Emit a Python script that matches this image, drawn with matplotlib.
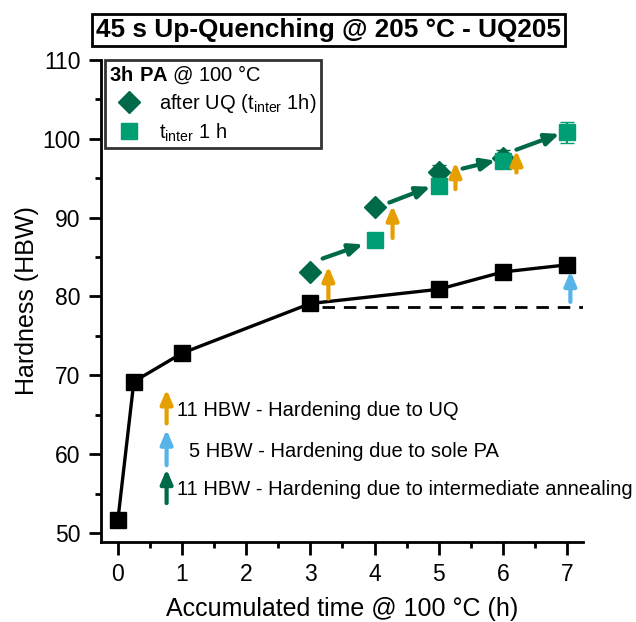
import matplotlib
matplotlib.use("Agg")
import matplotlib.pyplot as plt
from matplotlib.lines import Line2D
import numpy as np

plt.rcParams['font.family'] = ['Liberation Sans', 'DejaVu Sans']
plt.rcParams['mathtext.fontset'] = 'custom'
plt.rcParams['mathtext.rm'] = 'Liberation Sans'
plt.rcParams['mathtext.bf'] = 'Liberation Sans:bold'

# sole PA (black)
t_pa = [0, 0.25, 1, 3, 5, 6, 7]
hb_pa = [51.6, 69.2, 72.8, 79.1, 80.9, 83.1, 84.0]
err_pa = [0.3, 0.3, 0.3, 0.4, 0.5, 0.5, 0.5]

# after UQ (diamonds)
t_uq = [3, 4, 5, 6]
hb_uq = [83.1, 91.3, 95.8, 97.6]
err_uq = [0.3, 0.4, 0.8, 0.9]

# t_inter 1 h (squares)
t_int = [4, 5, 6, 7]
hb_int = [87.1, 94.0, 97.2, 100.8]
err_int = [0.3, 0.5, 0.7, 1.3]

ref_level = 78.7

# hardening arrows (x0, y0, x1, y1)
uq_arrows = [(3.28, 79.7, 3.28, 83.8), (4.28, 87.4, 4.28, 91.5),
             (5.26, 93.6, 5.26, 97.0), (6.21, 95.7, 6.21, 98.5)]
pa_arrows = [(7.05, 79.3, 7.05, 83.2)]
inter_arrows = [(3.19, 84.8, 3.82, 86.6), (4.23, 91.9, 4.87, 93.9),
                (5.37, 96.2, 5.88, 97.2), (6.21, 98.6, 6.88, 100.6)]

c_uq_arrow = '#E69F00'
c_pa_arrow = '#56B4E9'
c_dark = '#00694A'
c_sq = '#009E73'

fig = plt.figure(figsize=(6.36, 6.22), dpi=100)
ax = fig.add_axes([0.159, 0.129, 0.758, 0.775])

ax.plot([3.18, 7.24], [ref_level, ref_level], color='black', lw=2, ls=(0, (4.5, 3.2)))

ax.errorbar(t_pa, hb_pa, yerr=err_pa, color='black', lw=2.4, marker='s', ms=11.5,
            capsize=4, elinewidth=1.5, zorder=3)
ax.errorbar(t_uq, hb_uq, yerr=err_uq, color=c_dark, ls='none', marker='D', ms=11,
            capsize=5, elinewidth=1.5, zorder=4)
ax.errorbar(t_int, hb_int, yerr=err_int, color=c_sq, ls='none', marker='s', ms=11,
            capsize=5, elinewidth=1.5, zorder=4)


def arrow(x0, y0, x1, y1, c):
    ax.annotate('', xy=(x1, y1), xytext=(x0, y0),
                arrowprops=dict(arrowstyle='-|>,head_length=0.42,head_width=0.18',
                                mutation_scale=20, color=c, lw=3,
                                shrinkA=0, shrinkB=0), zorder=5)


for a in uq_arrows:
    arrow(*a, c_uq_arrow)
for a in pa_arrows:
    arrow(*a, c_pa_arrow)
for a in inter_arrows:
    arrow(*a, c_dark)

# arrow key
arrow(0.76, 63.9, 0.76, 68.2, c_uq_arrow)
arrow(0.76, 58.6, 0.76, 63.1, c_pa_arrow)
arrow(0.76, 53.8, 0.76, 58.1, c_dark)
ax.text(0.92, 65.6, '11 HBW - Hardening due to UQ', fontsize=14.5, va='center')
ax.text(1.11, 60.4, '5 HBW - Hardening due to sole PA', fontsize=14.5, va='center')
ax.text(0.92, 55.5, '11 HBW - Hardening due to intermediate annealing', fontsize=14.5,
        va='center', clip_on=False)

ax.set_xlim(-0.26, 7.25)
ax.set_ylim(48.9, 110)
ax.set_xticks(range(8))
ax.set_xticks(np.arange(0.5, 7.5, 1), minor=True)
ax.set_yticks(range(50, 111, 10))
ax.set_yticks(range(55, 110, 10), minor=True)
for s in ['top', 'right']:
    ax.spines[s].set_visible(False)
for s in ['left', 'bottom']:
    ax.spines[s].set_linewidth(2)
ax.tick_params(which='major', length=9, width=2, labelsize=16.5, pad=6)
ax.tick_params(which='minor', length=4.5, width=2)
ax.set_xlabel('Accumulated time @ 100 °C (h)', fontsize=18, labelpad=8)
ax.set_ylabel('Hardness (HBW)', fontsize=18, labelpad=2)

handles = [Line2D([], [], color=c_dark, marker='D', ls='none', ms=11),
           Line2D([], [], color=c_sq, marker='s', ls='none', ms=11)]
labels = ['after UQ (t$_{\\rm inter}$ 1h)', 't$_{\\rm inter}$ 1 h']
leg = ax.legend(handles, labels, loc='upper left', bbox_to_anchor=(0.008, 1.0),
                borderaxespad=0,
                title='$\\bf{3h\\ PA}$ @ 100 °C', title_fontsize=14.5, fontsize=14.5,
                frameon=True, fancybox=False, edgecolor='black', borderpad=0.2,
                handletextpad=0.5, labelspacing=0.3, alignment='left',
                handlelength=2.0)
leg.get_frame().set_linewidth(2)

fig.text(0.516, 0.952, '45 s Up-Quenching @ 205 °C - UQ205', fontsize=18.8,
         fontweight='bold', ha='center', va='center',
         bbox=dict(boxstyle='square,pad=0.15', fc='white', ec='black', lw=2))

fig.savefig('out.png', dpi=100)
